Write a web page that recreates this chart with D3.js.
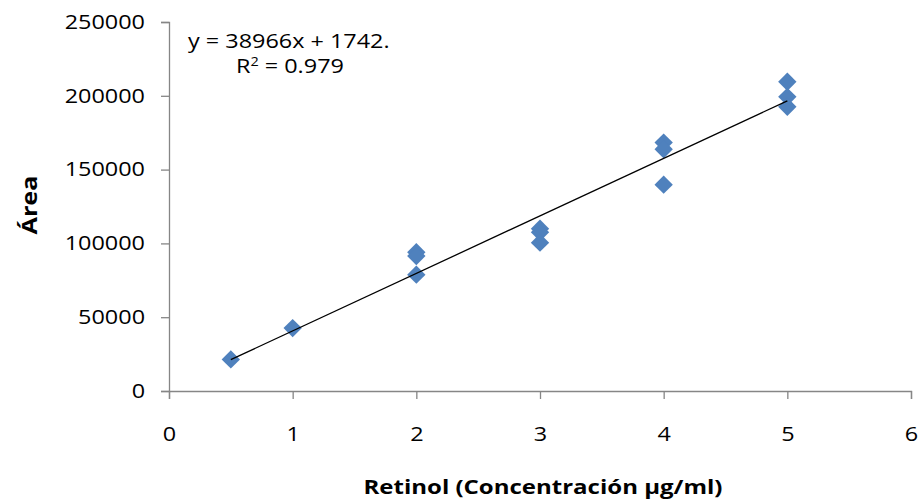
<!DOCTYPE html>
<html>
<head>
<meta charset="utf-8">
<script src="https://cdn.jsdelivr.net/npm/d3@7"></script>
<style>
  html, body { margin: 0; padding: 0; background: #fff; }
  svg text { font-family: "Open Sans", "Liberation Sans", sans-serif; fill: #000; }
</style>
</head>
<body>
<svg id="chart" width="923" height="503"></svg>
<script>
// Retinol calibration data: concentration (µg/ml) and peak area
const concentration = [0.5, 1, 2, 2, 2, 3, 3, 3, 4, 4, 4, 5, 5, 5];
const area = [21400, 42600, 94000, 91500, 78800, 110000, 107500, 100500, 168300, 163800, 139800, 209500, 199300, 192600];
const xTicks = [0, 1, 2, 3, 4, 5, 6];
const yTicks = [0, 50000, 100000, 150000, 200000, 250000];
const slope = 38966, intercept = 1742;
const equationLines = ["y = 38966x + 1742.", "R² = 0.979"];

const svg = d3.select("#chart");
const margin = { left: 169, right: 12, top: 22, bottom: 112 };
const W = 923, H = 503;

const x = d3.scaleLinear().domain([0, 6]).range([margin.left, W - margin.right]);
const y = d3.scaleLinear().domain([0, 250000]).range([H - margin.bottom, margin.top]);

const axisColor = "#868686";
const stretch = 1.2;

// widen each label horizontally, keeping its anchor
function widen(sel) {
  sel.each(function () {
    const len = this.getComputedTextLength();
    d3.select(this).attr("textLength", len * stretch).attr("lengthAdjust", "spacingAndGlyphs");
  });
}

// Y axis
const yAxis = svg.append("g")
  .attr("transform", `translate(${margin.left},0)`)
  .call(d3.axisLeft(y).tickValues(yTicks).tickSize(8).tickPadding(16).tickFormat(d3.format("d")));
yAxis.select(".domain").attr("stroke", axisColor).attr("stroke-width", 1.3);
yAxis.selectAll(".tick line").attr("stroke", axisColor).attr("stroke-width", 1.3);
yAxis.selectAll(".tick text").attr("font-size", 19.5).attr("font-family", null).call(widen);

// X axis
const xAxis = svg.append("g")
  .attr("transform", `translate(0,${y(0)})`)
  .call(d3.axisBottom(x).tickValues(xTicks).tickSize(8).tickPadding(28).tickFormat(d3.format("d")));
xAxis.select(".domain").attr("stroke", axisColor).attr("stroke-width", 1.3);
xAxis.selectAll(".tick line").attr("stroke", axisColor).attr("stroke-width", 1.3);
xAxis.selectAll(".tick text").attr("font-size", 19.5).attr("font-family", null).call(widen);

// Data markers (diamonds)
const diamond = d3.symbol().type(d3.symbolDiamond2).size(215);
svg.append("g").selectAll("path")
  .data(concentration.map((c, i) => ({ c, a: area[i] })))
  .join("path")
  .attr("d", diamond)
  .attr("transform", d => `translate(${x(d.c)},${y(d.a)})`)
  .attr("fill", "#4f81bd");

// Linear trendline over the data range
const xMin = d3.min(concentration), xMax = d3.max(concentration);
svg.append("line")
  .attr("x1", x(xMin)).attr("y1", y(slope * xMin + intercept))
  .attr("x2", x(xMax)).attr("y2", y(slope * xMax + intercept))
  .attr("stroke", "#000").attr("stroke-width", 1.3);

// Trendline equation
svg.append("text").attr("x", 188).attr("y", 48).attr("font-size", 19.5)
  .text(equationLines[0]).call(widen);
const r2 = svg.append("text").attr("x", 236).attr("y", 73).attr("font-size", 19.5);
r2.append("tspan").text("R");
r2.append("tspan").attr("font-size", 12).attr("dy", -7).text("2");
r2.append("tspan").attr("dy", 7).text(" = 0.979");
r2.call(widen);

// Axis titles
svg.append("text")
  .attr("transform", `translate(37,205) rotate(-90)`)
  .attr("text-anchor", "middle").attr("font-size", 21).attr("font-weight", "bold")
  .text("Área").call(widen);
svg.append("text")
  .attr("x", 543).attr("y", 494)
  .attr("text-anchor", "middle").attr("font-size", 20).attr("font-weight", "bold")
  .text("Retinol (Concentración µg/ml)").call(widen);
</script>
</body>
</html>
